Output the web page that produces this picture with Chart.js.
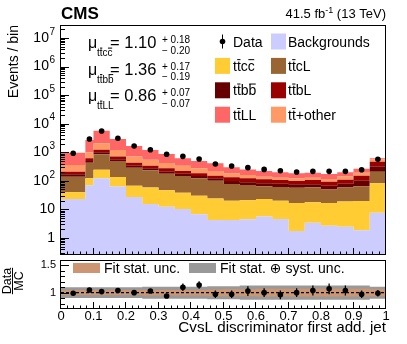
<!DOCTYPE html>
<html>
<head>
<meta charset="utf-8">
<script src="https://cdn.jsdelivr.net/npm/chart.js@4.4.0/dist/chart.umd.min.js"></script>
<style>
  html, body { margin: 0; padding: 0; background: #fff; }
  #wrap { position: relative; width: 407px; height: 344px; }
  canvas { position: absolute; left: 0; top: 0; }
</style>
</head>
<body>
<div id="wrap">
  <canvas id="main" width="407" height="344"></canvas>
  <canvas id="ratio" width="407" height="344"></canvas>
</div>
<script>
// bin edges of the CvsL discriminator
const binEdges = [0, 0.075, 0.1, 0.15, 0.2, 0.25, 0.3, 0.35, 0.4, 0.45, 0.5,
                  0.55, 0.6, 0.65, 0.7, 0.75, 0.8, 0.85, 0.9, 0.95, 1.0];

// stacked contributions (events / bin), bottom to top
const backgrounds = [23, 70, 123, 63, 27, 15.5, 12.5, 10.4, 6.8, 4.3, 4.3, 4.5, 5.7, 4.6, 1.76, 3.4, 2.7, 2.5, 1.86, 7.7];
const ttcc   = [17, 53, 123, 73, 41, 42.5, 34.5, 28, 23, 20, 15.7, 16.5, 17.3, 15.4, 15, 14.6, 14.1, 16.5, 17.8, 74];
const ttcL   = [100, 309, 604, 360, 222, 176, 131, 110, 93, 76, 58, 51, 42, 41, 41, 42, 33, 39, 45, 127];
const ttbb   = [30, 64, 150, 69, 50, 41, 31, 30, 25, 22, 21, 17, 17, 18, 18, 16, 18, 21, 36, 104];
const ttbL   = [39, 121, 230, 140, 92, 65, 66, 43, 36, 28, 34, 34, 31, 28, 23, 31, 25, 31, 50, 155];
const ttOther = [150, 383, 820, 495, 273, 210, 145, 119, 91, 70, 51, 37, 27, 22, 24, 22, 23, 35, 42, 101];
const ttLL   = [609, 1700, 3650, 1700, 955, 650, 450, 277, 221, 189, 113, 92, 81, 71, 61, 64, 58, 55, 73, 48];
const dataCounts = [920, 2900, 5560, 3100, 1660, 1230, 850, 720, 580, 390, 330, 290, 252, 227, 204, 215, 215, 215, 246, 569];

// ratio panel
const ratioValues = [0.99, 1.05, 1.02, 1.04, 1.0, 1.03, 0.94, 1.10, 1.14, 0.97, 0.97, 1.03, 1.0, 0.96, 1.0, 1.04, 1.07, 1.04, 0.97, 0.99];
const ratioErrors = [0.02, 0.02, 0.015, 0.02, 0.025, 0.03, 0.035, 0.07, 0.07, 0.07, 0.07, 0.09, 0.08, 0.08, 0.08, 0.09, 0.1, 0.09, 0.07, 0.06];
const statUnc = [0.045, 0.045, 0.045, 0.045, 0.045, 0.05, 0.05, 0.05, 0.05, 0.06, 0.065, 0.065, 0.07, 0.07, 0.07, 0.07, 0.07, 0.07, 0.07, 0.065];
const totUnc  = [0.1, 0.1, 0.1, 0.1, 0.1, 0.11, 0.11, 0.11, 0.11, 0.12, 0.12, 0.13, 0.13, 0.13, 0.13, 0.13, 0.13, 0.13, 0.13, 0.11];

// axis ticks
const yTickValues = [1, 10, 100, 1e3, 1e4, 1e5, 1e6, 1e7];
const yTickLabels = ['1', '10', '10^2', '10^3', '10^4', '10^5', '10^6', '10^7'];
const xTickValues = [0, 0.1, 0.2, 0.3, 0.4, 0.5, 0.6, 0.7, 0.8, 0.9, 1];
const xTickLabels = ['0', '0.1', '0.2', '0.3', '0.4', '0.5', '0.6', '0.7', '0.8', '0.9', '1'];
const ratioTickValues = [1, 1.5];
const ratioTickLabels = ['1', '1.5'];

// fitted signal strengths
const muNames = ['tt\u0305cc\u0305', 'tt\u0305bb\u0305', 'tt\u0305LL'];
const muValues = ['1.10', '1.36', '0.86'];
const muUp = ['0.18', '0.17', '0.07'];
const muDown = ['0.20', '0.19', '0.07'];

const FONT = '"Liberation Sans", Arial, "DejaVu Sans", sans-serif';

const stackDefs = [
  { label: 'Backgrounds', values: backgrounds, color: '#ccccff' },
  { label: 'tt\u0305cc\u0305', values: ttcc, color: '#ffcc33' },
  { label: 'tt\u0305cL', values: ttcL, color: '#996633' },
  { label: 'tt\u0305bb\u0305', values: ttbb, color: '#660000' },
  { label: 'tt\u0305bL', values: ttbL, color: '#990000' },
  { label: 'tt\u0305+other', values: ttOther, color: '#ff9966' },
  { label: 'tt\u0305LL', values: ttLL, color: '#ff6666' }
];

function stepPoints(vals) {
  return binEdges.map((x, j) => ({ x: x, y: vals[Math.min(j, vals.length - 1)] }));
}
const binCenters = dataCounts.map((v, i) => (binEdges[i] + binEdges[i + 1]) / 2);

// text with combining overline drawn as a bar
function drawMarked(ctx, str, x, y, size) {
  const chars = Array.from(str);
  let cx = x;
  for (let i = 0; i < chars.length; i++) {
    const ch = chars[i];
    if (ch === '\u0305') continue;
    const w = ctx.measureText(ch).width;
    ctx.fillText(ch, cx, y);
    if (chars[i + 1] === '\u0305') {
      ctx.fillRect(cx + w * 0.08, y - size * 0.84, w * 0.84, Math.max(1, size * 0.07));
    }
    cx += w;
  }
  return cx - x;
}

let running = backgrounds.map(() => 0);
const stackSets = stackDefs.map((d, i) => {
  running = running.map((r, j) => r + d.values[j]);
  return {
    label: d.label,
    data: stepPoints(running.slice()),
    stepped: 'before',
    fill: i === 0 ? 'start' : '-1',
    backgroundColor: d.color,
    borderColor: 'rgba(0,0,0,0)',
    borderWidth: 1,
    pointRadius: 0,
    order: 1
  };
});

const dataSet = {
  label: 'Data',
  data: binCenters.map((x, i) => ({ x: x, y: dataCounts[i] })),
  showLine: false,
  pointRadius: 2.8,
  pointBackgroundColor: '#000',
  pointBorderWidth: 0,
  order: 0
};

const mainDecor = {
  id: 'mainDecor',
  afterDraw(chart) {
    const { ctx, chartArea: a, scales: { x, y } } = chart;
    ctx.save();
    ctx.strokeStyle = '#000';
    ctx.fillStyle = '#000';
    ctx.lineWidth = 1;
    ctx.strokeRect(a.left - 0.5, a.top + 0.5, a.right - a.left, a.bottom - a.top - 1);

    // log ticks (inward)
    ctx.beginPath();
    for (let e = -1; e <= 7; e++) {
      for (let m = 1; m <= 9; m++) {
        const v = m * Math.pow(10, e);
        if (v < y.min || v > y.max) continue;
        const py = Math.round(y.getPixelForValue(v)) + 0.5;
        ctx.moveTo(a.left, py);
        ctx.lineTo(a.left + (m === 1 ? 8 : 4), py);
      }
    }
    for (let i = 1; i < 50; i++) {
      const px = Math.round(x.getPixelForValue(i * 0.02)) - 0.5;
      ctx.moveTo(px, a.bottom);
      ctx.lineTo(px, a.bottom - (i % 5 === 0 ? 7 : 3.5));
    }
    ctx.stroke();

    // y tick labels
    ctx.textBaseline = 'middle';
    yTickValues.forEach((v, i) => {
      const py = y.getPixelForValue(v);
      const parts = yTickLabels[i].split('^');
      const right = 55;
      if (parts.length === 2) {
        ctx.font = '10px ' + FONT;
        const sw = ctx.measureText(parts[1]).width;
        ctx.textAlign = 'left';
        ctx.fillText(parts[1], right - sw, py - 6);
        ctx.font = '14px ' + FONT;
        ctx.textAlign = 'right';
        ctx.fillText(parts[0], right - sw - 0.5, py);
      } else {
        ctx.font = '14px ' + FONT;
        ctx.textAlign = 'right';
        ctx.fillText(parts[0], right, py);
      }
    });

    // y title
    ctx.save();
    ctx.translate(17.5, a.top);
    ctx.rotate(-Math.PI / 2);
    ctx.font = '14px ' + FONT;
    ctx.textAlign = 'right';
    ctx.textBaseline = 'alphabetic';
    ctx.fillText('Events / bin', 0, 0);
    ctx.restore();

    // CMS and luminosity
    ctx.textBaseline = 'alphabetic';
    ctx.textAlign = 'left';
    ctx.font = 'bold 17px ' + FONT;
    ctx.fillText('CMS', 61, 19);
    ctx.font = '13px ' + FONT;
    const p1 = '41.5 fb', p3 = ' (13 TeV)';
    const w1 = ctx.measureText(p1).width, w3 = ctx.measureText(p3).width;
    ctx.font = '9px ' + FONT;
    const w2 = ctx.measureText('-1').width;
    let lx = 386 - w1 - w2 - w3;
    ctx.font = '13px ' + FONT;
    ctx.fillText(p1, lx, 18);
    ctx.fillText(p3, lx + w1 + w2, 18);
    ctx.font = '9px ' + FONT;
    ctx.fillText('-1', lx + w1, 13);

    // fitted mu values
    const muBase = [48, 74.5, 101];
    muNames.forEach((n, i) => {
      const b = muBase[i];
      ctx.font = '16px ' + FONT;
      ctx.fillText('\u03bc', 88, b);
      ctx.font = '10px ' + FONT;
      drawMarked(ctx, n, 97, b + 8, 10);
      ctx.font = '16.5px ' + FONT;
      ctx.fillText('= ' + muValues[i], 110, b);
      ctx.font = '10px ' + FONT;
      ctx.fillText('+ ' + muUp[i], 162, b - 5);
      ctx.fillText('\u2212 ' + muDown[i], 162, b + 5.5);
    });

    // legend
    const rows = [[{ t: 'Data', data: true }, stackDefs[0]],
                  [stackDefs[1], stackDefs[2]],
                  [stackDefs[3], stackDefs[4]],
                  [stackDefs[6], stackDefs[5]]];
    const boxX = [215, 271], textX = [233, 288];
    ctx.font = '14px ' + FONT;
    rows.forEach((row, r) => {
      const cy = 41.5 + 24.4 * r;
      row.forEach((item, c) => {
        if (item.data) {
          ctx.beginPath();
          ctx.moveTo(222.5, cy - 7);
          ctx.lineTo(222.5, cy + 7);
          ctx.stroke();
          ctx.beginPath();
          ctx.arc(222.5, cy, 2.8, 0, Math.PI * 2);
          ctx.fill();
          ctx.fillText(item.t, textX[c], cy + 5);
        } else {
          ctx.fillStyle = item.color;
          ctx.fillRect(boxX[c], cy - 8, 15, 16);
          ctx.fillStyle = '#000';
          drawMarked(ctx, item.label, textX[c], cy + 5, 14);
        }
      });
    });
    ctx.restore();
  }
};

new Chart(document.getElementById('main').getContext('2d'), {
  type: 'line',
  data: { datasets: stackSets.concat([dataSet]) },
  options: {
    responsive: false,
    animation: false,
    events: [],
    layout: { padding: { left: 61, top: 25, right: 21, bottom: 89 } },
    scales: {
      x: { type: 'linear', min: 0, max: 1, display: false },
      y: { type: 'logarithmic', min: 0.254, max: 2.85e7, display: false }
    },
    plugins: { legend: { display: false }, tooltip: { enabled: false } }
  },
  plugins: [mainDecor]
});

// ratio panel
const ratioDecor = {
  id: 'ratioDecor',
  afterDatasetsDraw(chart) {
    const { ctx, scales: { x, y } } = chart;
    ctx.save();
    ctx.strokeStyle = '#000';
    ctx.lineWidth = 1.3;
    ctx.beginPath();
    ratioValues.forEach((v, i) => {
      const px = x.getPixelForValue(binCenters[i]);
      ctx.moveTo(px, y.getPixelForValue(v - ratioErrors[i]));
      ctx.lineTo(px, y.getPixelForValue(v + ratioErrors[i]));
    });
    ctx.stroke();
    ctx.restore();
  },
  afterDraw(chart) {
    const { ctx, chartArea: a, scales: { x, y } } = chart;
    ctx.save();
    ctx.strokeStyle = '#000';
    ctx.fillStyle = '#000';
    ctx.lineWidth = 1;
    ctx.strokeRect(a.left - 0.5, a.top + 0.5, a.right - a.left, a.bottom - a.top - 1);
    ctx.beginPath();
    for (let i = 8; i <= 16; i++) {
      const v = i / 10;
      const py = Math.round(y.getPixelForValue(v)) + 0.5;
      ctx.moveTo(a.left, py);
      ctx.lineTo(a.left + (i === 10 || i === 15 ? 8 : 4), py);
    }
    for (let i = 1; i < 50; i++) {
      const px = Math.round(x.getPixelForValue(i * 0.02)) - 0.5;
      ctx.moveTo(px, a.bottom);
      ctx.lineTo(px, a.bottom - (i % 5 === 0 ? 7 : 3.5));
    }
    ctx.stroke();

    ctx.font = '11px ' + FONT;
    ctx.textAlign = 'right';
    ctx.textBaseline = 'middle';
    ratioTickValues.forEach((v, i) => ctx.fillText(ratioTickLabels[i], 56, y.getPixelForValue(v)));

    ctx.font = '13px ' + FONT;
    ctx.textAlign = 'center';
    ctx.textBaseline = 'alphabetic';
    xTickValues.forEach((v, i) => ctx.fillText(xTickLabels[i], x.getPixelForValue(v), 320));

    ctx.font = '15.2px ' + FONT;
    ctx.textAlign = 'right';
    ctx.fillText('CvsL discriminator first add. jet', 386, 332);

    // Data / MC title
    ctx.save();
    ctx.translate(12.5, 281);
    ctx.rotate(-Math.PI / 2);
    ctx.font = '12.5px ' + FONT;
    ctx.textAlign = 'center';
    ctx.fillText('Data', 0, -1.5);
    ctx.fillText('MC', 0, 10);
    const fw = ctx.measureText('Data').width;
    ctx.fillRect(-fw / 2, -0.5, fw, 1);
    ctx.restore();

    // legend
    ctx.textAlign = 'left';
    ctx.font = '14px ' + FONT;
    ctx.fillStyle = '#cc9673';
    ctx.fillRect(73, 263, 27, 10);
    ctx.fillStyle = '#999999';
    ctx.fillRect(189, 263, 27, 10);
    ctx.fillStyle = '#000';
    ctx.fillText('Fit stat. unc.', 104, 273);
    ctx.fillText('Fit stat. \u2295 syst. unc.', 220, 273);
    ctx.restore();
  }
};

function bandSet(sign, unc, color, fill) {
  return {
    data: stepPoints(unc.map(u => 1 + sign * u)),
    stepped: 'before',
    fill: fill,
    backgroundColor: color,
    borderColor: 'rgba(0,0,0,0)',
    borderWidth: 1,
    pointRadius: 0
  };
}

new Chart(document.getElementById('ratio').getContext('2d'), {
  type: 'line',
  data: {
    datasets: [
      {
        data: binCenters.map((x, i) => ({ x: x, y: ratioValues[i] })),
        showLine: false, pointRadius: 2.8, pointBackgroundColor: '#000', pointBorderWidth: 0, order: 0
      },
      {
        data: [{ x: 0, y: 1 }, { x: 1, y: 1 }],
        borderColor: '#000', borderWidth: 1.2, borderDash: [3, 2], pointRadius: 0, fill: false, order: 1
      },
      Object.assign(bandSet(1, statUnc, '#cc9673', '+1'), { order: 2 }),
      Object.assign(bandSet(-1, statUnc, '#cc9673', false), { order: 2 }),
      Object.assign(bandSet(1, totUnc, '#999999', '+1'), { order: 3 }),
      Object.assign(bandSet(-1, totUnc, '#999999', false), { order: 3 })
    ]
  },
  options: {
    responsive: false,
    animation: false,
    events: [],
    layout: { padding: { left: 61, top: 260, right: 21, bottom: 35 } },
    scales: {
      x: { type: 'linear', min: 0, max: 1, display: false },
      y: { type: 'linear', min: 0.7, max: 1.6, display: false }
    },
    plugins: { legend: { display: false }, tooltip: { enabled: false } }
  },
  plugins: [ratioDecor]
});
</script>
</body>
</html>
